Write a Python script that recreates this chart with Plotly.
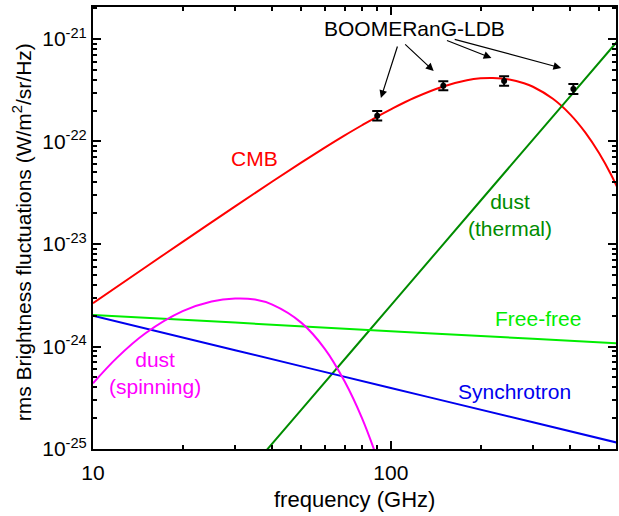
import plotly.graph_objects as go

# ---------------- data ----------------
cmb_freq = [10, 15, 20, 30, 40, 50, 60, 70, 80, 90, 100, 120, 150, 180, 200,
            220, 250, 280, 300, 350, 400, 450, 500, 550, 600]
cmb_val = [2.64e-24, 5.93e-24, 1.05e-23, 2.33e-23, 4.07e-23, 6.22e-23, 8.71e-23,
           1.147e-22, 1.44e-22, 1.75e-22, 2.06e-22, 2.67e-22, 3.44e-22, 3.95e-22,
           4.13e-22, 4.17e-22, 4.03e-22, 3.70e-22, 3.42e-22, 2.61e-22, 1.84e-22,
           1.22e-22, 7.71e-23, 4.68e-23, 2.75e-23]

dust_th_freq = [30, 50, 100, 200, 400, 600]
dust_th_val = [4.27e-26, 2.41e-25, 2.52e-24, 2.64e-23, 2.76e-22, 1.09e-21]

freefree_freq = [10, 30, 100, 300, 600]
freefree_val = [2.03e-24, 1.71e-24, 1.41e-24, 1.19e-24, 1.07e-24]

sync_freq = [10, 30, 100, 300, 600]
sync_val = [2.0e-24, 9.2e-25, 3.94e-25, 1.82e-25, 1.12e-25]

spin_freq = [10, 12, 15, 20, 25, 30, 35, 40, 50, 60, 70, 80, 90, 100]
spin_val = [4.37e-25, 7.7e-25, 1.345e-24, 2.21e-24, 2.75e-24, 2.94e-24, 2.87e-24,
            2.56e-24, 1.71e-24, 9.5e-25, 4.55e-25, 2.0e-25, 8.1e-26, 3.2e-26]

boom_freq = [90, 150, 240, 410]
boom_val = [1.78e-22, 3.50e-22, 3.89e-22, 3.25e-22]
boom_err_plus = [0.20e-22, 0.38e-22, 0.44e-22, 0.38e-22]
boom_err_minus = [0.18e-22, 0.34e-22, 0.40e-22, 0.34e-22]

y_tick_vals = [1e-25, 1e-24, 1e-23, 1e-22, 1e-21]
y_tick_text = ["10<sup>-25</sup>", "10<sup>-24</sup>", "10<sup>-23</sup>",
               "10<sup>-22</sup>", "10<sup>-21</sup>"]
x_tick_vals = [10, 100]
x_tick_text = ["10", "100"]

# arrow heads (log10 freq, log10 value) and tail offsets (px)
arrow_heads = [(1.9666, -21.576), (2.1438, -21.312), (2.3378, -21.185), (2.5719, -21.283)]
arrow_tails = [(17, -53), (-30, -28), (-46, -18), (-108, -29)]

FONT = "Liberation Sans, Arial, sans-serif"
RED = "#ff0000"
DGREEN = "#008c00"
LIME = "#00ee00"
BLUE = "#0000ee"
MAG = "#ff00ff"

fig = go.Figure()

def curve(x, y, color):
    fig.add_trace(go.Scatter(x=x, y=y, mode="lines",
                             line=dict(color=color, width=2, shape="spline"),
                             showlegend=False, hoverinfo="skip"))

curve(cmb_freq, cmb_val, RED)
curve(dust_th_freq, dust_th_val, DGREEN)
curve(freefree_freq, freefree_val, LIME)
curve(sync_freq, sync_val, BLUE)
curve(spin_freq, spin_val, MAG)

fig.add_trace(go.Scatter(
    x=boom_freq, y=boom_val, mode="markers",
    marker=dict(color="black", size=6),
    error_y=dict(type="data", symmetric=False, array=boom_err_plus,
                 arrayminus=boom_err_minus, color="black", thickness=2, width=5),
    showlegend=False))

minor_x = [m * d for d in (10, 100) for m in range(2, 10) if m * d <= 600]
minor_y = [m * d for d in (1e-25, 1e-24, 1e-23, 1e-22, 1e-21) for m in range(2, 10)]

axis_common = dict(showline=True, linecolor="black", linewidth=2, mirror="allticks",
                   ticks="inside", ticklen=8, tickwidth=1.5, tickcolor="black",
                   showgrid=False, zeroline=False,
                   tickfont=dict(family=FONT, size=21, color="black"))

fig.update_xaxes(type="log", range=[1, 2.7559], tickmode="array",
                 tickvals=x_tick_vals, ticktext=x_tick_text,
                 minor=dict(tickmode="array", tickvals=minor_x, ticks="inside",
                            ticklen=4, tickwidth=1.5, tickcolor="black", showgrid=False),
                 ticklabelstandoff=4, **axis_common)
fig.update_yaxes(type="log", range=[-25, -20.688], tickmode="array",
                 tickvals=y_tick_vals, ticktext=y_tick_text,
                 minor=dict(tickmode="array", tickvals=minor_y, ticks="inside",
                            ticklen=4, tickwidth=1.5, tickcolor="black", showgrid=False),
                 **axis_common)

ann = []
def label(text, px, py, color, size=21):
    ann.append(dict(text=text, x=(px - 93) / 525, y=(449 - py) / 442,
                    xref="paper", yref="paper", showarrow=False,
                    xanchor="center", yanchor="middle", align="center",
                    font=dict(family=FONT, size=size, color=color)))

label("CMB", 255, 158, RED)
label("dust<br>(thermal)", 512, 215, DGREEN)
label("Free-free", 540, 318, LIME)
label("Synchrotron", 516, 391, BLUE)
label("dust<br>(spinning)", 155, 373, MAG)
label("BOOMERanG-LDB", 416, 28, "black")
label("frequency (GHz)", 356, 499, "black", 22)
ann.append(dict(text="rms Brightness fluctuations (W/m<sup>2</sup>/sr/Hz)",
                x=(22 - 93) / 525, y=(449 - 232) / 442, xref="paper", yref="paper",
                showarrow=False, textangle=-90, xanchor="center", yanchor="middle",
                font=dict(family=FONT, size=21, color="black")))

for (hx, hy), (tx, ty) in zip(arrow_heads, arrow_tails):
    ann.append(dict(text="", x=hx, y=hy, xref="x", yref="y", ax=tx, ay=ty,
                    showarrow=True, arrowhead=2, arrowsize=1.3, arrowwidth=1.2,
                    arrowcolor="black", standoff=0))

fig.update_layout(width=619, height=516, margin=dict(l=93, r=1, t=7, b=67),
                  plot_bgcolor="white", paper_bgcolor="white",
                  annotations=ann, showlegend=False)

fig.write_html("out.html")
